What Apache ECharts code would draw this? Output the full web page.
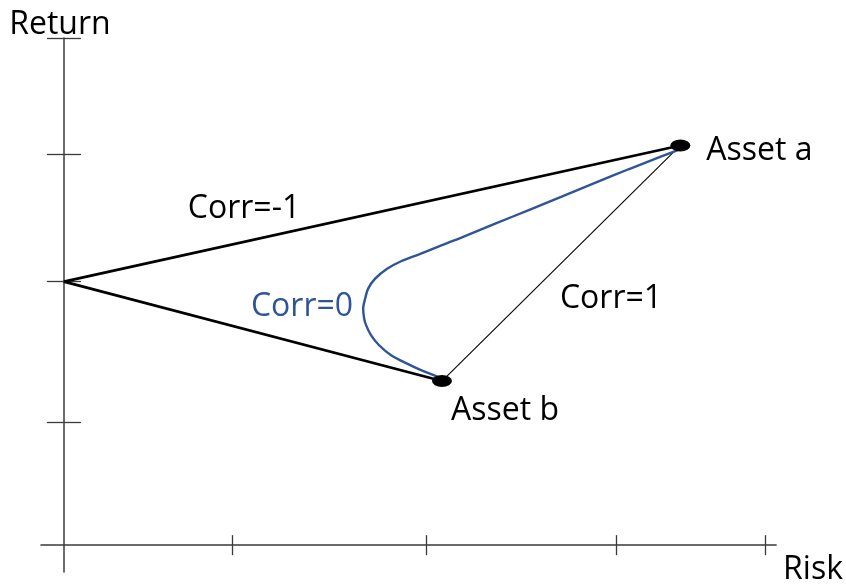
<!DOCTYPE html>
<html>
<head>
<meta charset="UTF-8">
<title>Risk / Return</title>
<script src="https://cdn.jsdelivr.net/npm/echarts@6/dist/echarts.min.js"></script>
<style>
html,body{margin:0;padding:0;background:#fff;}
#main{width:846px;height:586px;}
</style>
</head>
<body>
<div id="main"></div>
<script>
// values (risk, return)
var origin = [0, 2.65];
var assetA = [6.18, 4.02];
var assetB = [3.79, 1.65];
var assetNames = ['Asset a', 'Asset b'];

// corr = 0 curve, from asset b up to asset a
var corr0Risk   = [3.80, 3.73, 3.58, 3.43, 3.28, 3.16, 3.08, 3.03, 3.01, 3.00, 3.02, 3.05, 3.12, 3.24, 3.38, 3.56, 3.76, 3.99, 4.33, 4.66, 4.99, 5.33, 5.66, 5.99, 6.16];
var corr0Return = [1.665, 1.70, 1.76, 1.83, 1.91, 2.01, 2.11, 2.21, 2.28, 2.38, 2.48, 2.58, 2.68, 2.78, 2.855, 2.925, 3.005, 3.095, 3.235, 3.37, 3.505, 3.645, 3.78, 3.91, 3.975];

// hand drawn tick positions
var xTicks = [1.69, 3.63, 5.535, 7.03];
var yTicks = [1.24, 2.65, 3.93, 5.10];

var font = 'Open Sans';
var axisColor = '#3a3a3a';

var corr0 = [];
for (var i = 0; i < corr0Risk.length; i++) {
    corr0.push([corr0Risk[i], corr0Return[i]]);
}

function xAx(inside, showLine) {
    return {
        type: 'value', min: -0.23, max: 7.14, position: 'bottom',
        axisLine: { show: showLine, onZero: true, onZeroAxisIndex: 0, lineStyle: { color: axisColor, width: 1.5 } },
        axisTick: { show: true, inside: inside, length: 10, customValues: xTicks, lineStyle: { color: axisColor, width: 1.3 } },
        axisLabel: { show: false },
        splitLine: { show: false },
        name: showLine ? 'Risk' : '',
        nameLocation: 'end',
        nameGap: 7,
        nameTextStyle: { fontFamily: font, fontSize: 32, color: '#000', align: 'left', verticalAlign: 'top', padding: [9, 0, 0, 0] }
    };
}
function yAx(inside, showLine) {
    return {
        type: 'value', min: -0.27, max: 5.10, position: 'left',
        axisLine: { show: showLine, onZero: true, onZeroAxisIndex: 0, lineStyle: { color: axisColor, width: 1.5 } },
        axisTick: { show: true, inside: inside, length: 17, customValues: yTicks, lineStyle: { color: axisColor, width: 1.3 } },
        axisLabel: { show: false },
        splitLine: { show: false },
        name: showLine ? 'Return' : '',
        nameLocation: 'end',
        nameGap: -3,
        nameTextStyle: { fontFamily: font, fontSize: 32, color: '#000', padding: [0, 8, 0, 0] }
    };
}

var labelBase = { fontFamily: font, fontSize: 32, color: '#000', textBorderWidth: 0 };

var myChart = echarts.init(document.getElementById('main'));
var option = {
    animation: false,
    backgroundColor: '#fff',
    grid: { left: 41, right: 68, top: 38, bottom: 11, containLabel: false },
    xAxis: [xAx(false, true), xAx(true, false)],
    yAxis: [yAx(false, true), yAx(true, false)],
    series: [
        {
            name: 'Corr=-1', type: 'line', symbol: 'none',
            data: [assetA, origin, assetB],
            lineStyle: { color: '#000', width: 2.6 }
        },
        {
            name: 'Corr=1', type: 'line', symbol: 'none',
            data: [assetA, assetB],
            lineStyle: { color: '#000', width: 1.1 }
        },
        {
            name: 'Corr=0', type: 'line', symbol: 'none', smooth: 0.3,
            data: corr0,
            lineStyle: { color: '#2f5597', width: 2.4 }
        },
        {
            name: 'assets', type: 'scatter', symbol: 'circle', symbolSize: [20, 12], z: 5,
            itemStyle: { color: '#000', opacity: 1 },
            data: [
                { name: assetNames[0], value: assetA, label: Object.assign({ position: 'right', distance: 15, offset: [1, 5] }, labelBase) },
                { name: assetNames[1], value: assetB, label: Object.assign({ position: 'right', distance: -1, offset: [0, 30] }, labelBase) }
            ],
            label: Object.assign({ show: true, formatter: '{b}' }, labelBase)
        }
    ],
    graphic: [
        { type: 'text', x: 244, y: 209, style: { text: 'Corr=-1', font: '32px "Open Sans"', fill: '#000', align: 'center', verticalAlign: 'middle', textAlign: 'center', textVerticalAlign: 'middle' } },
        { type: 'text', x: 302, y: 307, style: { text: 'Corr=0', font: '32px "Open Sans"', fill: '#2f5597', align: 'center', verticalAlign: 'middle', textAlign: 'center', textVerticalAlign: 'middle' } },
        { type: 'text', x: 611, y: 299, style: { text: 'Corr=1', font: '32px "Open Sans"', fill: '#000', align: 'center', verticalAlign: 'middle', textAlign: 'center', textVerticalAlign: 'middle' } }
    ]
};
myChart.setOption(option);
</script>
</body>
</html>
